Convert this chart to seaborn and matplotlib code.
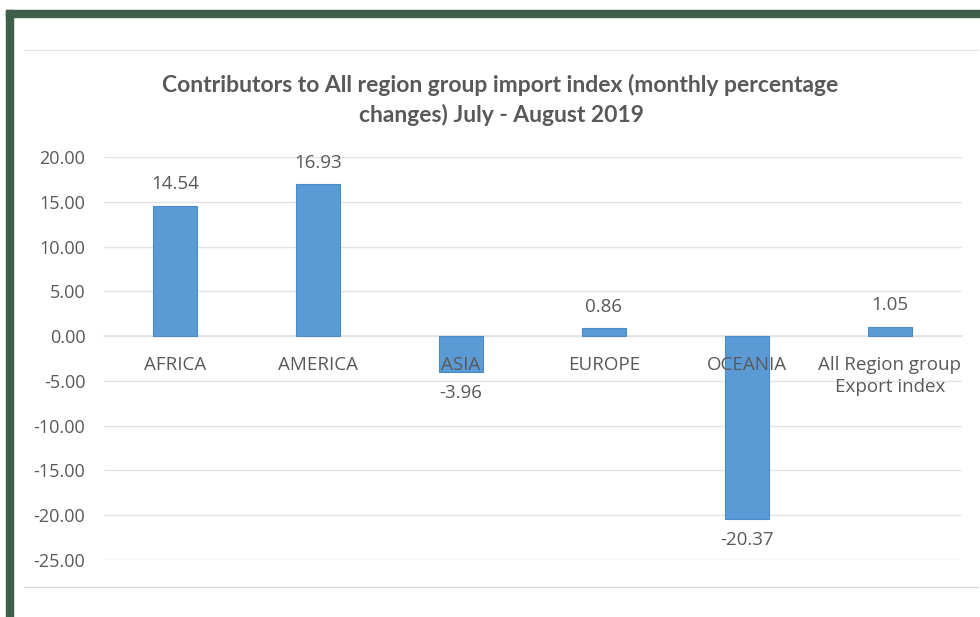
import matplotlib
matplotlib.use("Agg")
import matplotlib.pyplot as plt
import seaborn as sns
import pandas as pd
from matplotlib.patches import Rectangle
from matplotlib.lines import Line2D
from matplotlib.ticker import FormatStrFormatter, MultipleLocator

categories = ["AFRICA", "AMERICA", "ASIA", "EUROPE", "OCEANIA", "All Region group\nExport index"]
values = [14.54, 16.93, -3.96, 0.86, -20.37, 1.05]
value_labels = ["14.54", "16.93", "-3.96", "0.86", "-20.37", "1.05"]
title_line1 = "Contributors to All region group import index (monthly percentage"
title_line2 = "changes) July - August 2019"

sns.set_theme(style="white")
plt.rcParams['font.family'] = ['Open Sans', 'DejaVu Sans']

df = pd.DataFrame({"region": categories, "value": values})

fig = plt.figure(figsize=(9.8, 6.17), dpi=100)
W, H = 980, 617

# dark green frame
green = "#3e5f4b"
fig.patches.append(Rectangle((6 / W, 0), 7 / W, 1 - 10 / H, transform=fig.transFigure, color=green, zorder=0))
fig.patches.append(Rectangle((6 / W, 1 - 17 / H), 1 - 6 / W, 7 / H, transform=fig.transFigure, color=green, zorder=0))
# chart area light lines
fig.lines.append(Line2D([24 / W, 978 / W], [1 - 50 / H, 1 - 50 / H], transform=fig.transFigure, color="#e6e6e6", lw=1))
fig.lines.append(Line2D([24 / W, 978 / W], [1 - 587 / H, 1 - 587 / H], transform=fig.transFigure, color="#d9d9d9", lw=1))

ax = fig.add_axes([103.5 / W, 57 / H, 858 / W, 403 / H])
sns.barplot(data=df, x="region", y="value", color="#5b9bd5", width=0.31, saturation=1,
            edgecolor="#4a8ccb", linewidth=0.8, ax=ax, zorder=2)

ax.set_axisbelow(False)
ax.set_ylim(-25, 20)
ax.set_xlim(-0.5, len(categories) - 0.5)
ax.yaxis.set_major_locator(MultipleLocator(5))
ax.yaxis.set_major_formatter(FormatStrFormatter("%.2f"))
ax.grid(False)
ax.hlines(ax.get_yticks(), -0.5, len(categories) - 0.5, color="#e3e3e3", lw=1, zorder=0)
for s in ["top", "right", "left"]:
    ax.spines[s].set_visible(False)
ax.spines["bottom"].set_position(("data", 0))
ax.spines["bottom"].set_color("#e3e3e3")
ax.spines["bottom"].set_zorder(0.5)
ax.set_xlabel("")
ax.set_ylabel("")
ax.tick_params(axis="y", length=0, pad=13, labelsize=13, labelcolor="#595959")
ax.tick_params(axis="x", length=0, pad=14, labelsize=13.5, labelcolor="#595959")
for t in ax.get_xticklabels():
    t.set_linespacing(1.35)

ax.bar_label(ax.containers[0], labels=value_labels, padding=9, fontsize=13.5, color="#595959")

fig.text(500 / W, 1 - 85 / H, title_line1, ha="center", va="center", fontsize=16.5,
         color="#595959", family=["Lato", "DejaVu Sans"], fontweight="bold")
fig.text(501 / W, 1 - 115 / H, title_line2, ha="center", va="center", fontsize=16.5,
         color="#595959", family=["Lato", "DejaVu Sans"], fontweight="bold")

fig.savefig("out.png", dpi=100, facecolor="white")
